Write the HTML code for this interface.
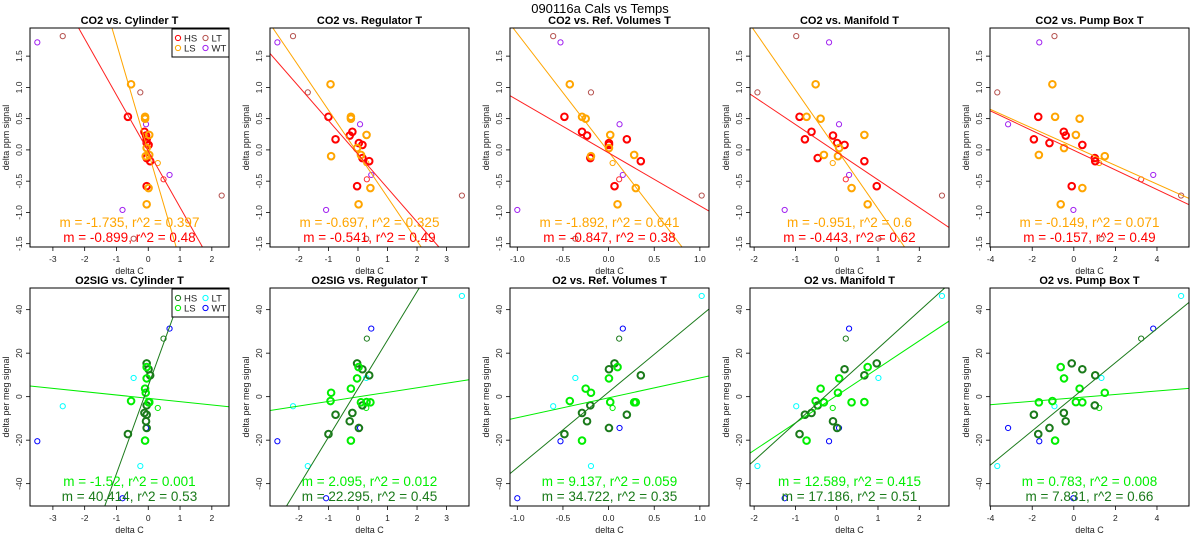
<!DOCTYPE html>
<html><head><meta charset="utf-8"><style>
html,body{margin:0;padding:0;background:#fff;width:1200px;height:550px;overflow:hidden;}
svg{display:block;overflow:hidden;font-family:"Liberation Sans",sans-serif;}
</style></head><body><svg id="chart" width="1200" height="550" viewBox="0 0 1200 550" xmlns="http://www.w3.org/2000/svg">
<rect width="1200" height="550" fill="#fff"/>
<text x="600" y="13" text-anchor="middle" font-size="13">090116a   Cals vs Temps</text>
</svg><script>
const ptGroup = ['WT','LT','LT','WT','WT','WT','HSthin','LT','LT','LSthin','HS','HS','HS','HS','HS','HS','HS','HS','HS','LS','LS','LS','LS','LS','LS','LS','LS','LS'];
const xCyl = [-3.49,-2.69,-0.25,-0.07,0.67,-0.81,0.48,2.31,-0.46,0.30,-0.64,-0.12,-0.07,-0.05,-0.05,0.01,-0.05,0.06,-0.05,-0.54,-0.10,-0.10,0.03,-0.05,0.03,-0.08,0.01,-0.05];
const xReg = [-2.73,-2.20,-1.70,0.07,0.45,-1.08,0.30,3.52,0.28,0.28,-1.00,-0.19,-0.28,-0.76,0.03,0.15,0.15,0.38,-0.03,-0.93,-0.24,-0.24,0.29,-0.03,0.10,-0.91,0.42,0.02];
const xRef = [-0.527,-0.607,-0.193,0.12,0.156,-1.0,0.116,1.02,-0.364,0.044,-0.484,-0.291,-0.236,0.20,0.004,0.004,-0.20,0.353,0.065,-0.425,-0.291,-0.251,0.018,0.004,0.28,-0.193,0.298,0.098];
const xMan = [-0.185,-0.98,-1.92,0.056,0.30,-1.26,0.22,2.55,1.01,-0.096,-0.90,-0.61,-0.09,-0.77,0.01,0.19,-0.46,0.67,0.97,-0.51,-0.73,-0.39,0.67,0.06,-0.31,0.03,0.36,0.75];
const xPump = [-1.66,-0.93,-3.68,-3.16,3.82,-0.02,3.24,5.16,1.33,1.22,-1.71,-0.48,-0.39,-1.92,-1.17,0.41,1.01,1.03,-0.10,-1.03,-0.90,0.28,0.10,-0.47,-1.68,1.49,0.41,-0.63];
const yCO2 = [1.72,1.82,0.92,0.41,-0.40,-0.96,-0.47,-0.73,-1.42,-0.21,0.53,0.29,0.23,0.17,0.11,0.08,-0.13,-0.18,-0.58,1.05,0.53,0.50,0.24,0.03,-0.08,-0.10,-0.61,-0.87];
const yO2 = [-20.5,-4.4,-31.9,-14.4,31.3,-46.7,26.7,46.3,8.6,-5.2,-17.2,-7.5,-11.3,-8.3,-14.4,12.6,-4.0,9.8,15.3,-2.0,-20.2,3.7,-2.5,8.4,-2.6,1.8,-2.6,13.6];
const colNames = ['Cylinder T','Regulator T','Ref. Volumes T','Manifold T','Pump Box T'];
const xLims = [[-3.72,2.54],[-2.98,3.76],[-1.08,1.10],[-2.10,2.72],[-4.03,5.54]];
const xTickVals = [[-3,-2,-1,0,1,2],[-2,-1,0,1,2,3],[-1,-0.5,0,0.5,1],[-2,-1,0,1,2],[-4,-2,0,2,4]];
const xTickLabels = [['-3','-2','-1','0','1','2'],['-2','-1','0','1','2','3'],['-1.0','-0.5','0.0','0.5','1.0'],['-2','-1','0','1','2'],['-4','-2','0','2','4']];
const yTopTicks = [-1.5,-1.0,-0.5,0.0,0.5,1.0,1.5];
const yTopLabels = ['-1.5','-1.0','-0.5','0.0','0.5','1.0','1.5'];
const yBotTicks = [-40,-20,0,20,40];
const yBotLabels = ['-40','-20','0','20','40'];
const topLS = [[-1.735,-0.03],[-0.697,-0.06],[-1.892,-0.03],[-0.951,0.01],[-0.149,0.05]];
const topHS = [[-0.899,-0.02],[-0.541,-0.07],[-0.847,-0.047],[-0.443,-0.036],[-0.157,-0.006]];
const botLS = [[-1.52,-0.75],[2.095,-0.1],[9.137,-0.53],[12.589,0.5],[0.783,-0.54]];
const botHS = [[40.414,5],[22.295,3.7],[34.722,2.1],[17.186,5],[7.831,-0.04]];
const topLSText = ['m = -1.735, r^2 = 0.397','m = -0.697, r^2 = 0.325','m = -1.892, r^2 = 0.641','m = -0.951, r^2 = 0.6','m = -0.149, r^2 = 0.071'];
const topHSText = ['m = -0.899, r^2 = 0.48','m = -0.541, r^2 = 0.49','m = -0.847, r^2 = 0.38','m = -0.443, r^2 = 0.62','m = -0.157, r^2 = 0.49'];
const botLSText = ['m = -1.52, r^2 = 0.001','m = 2.095, r^2 = 0.012','m = 9.137, r^2 = 0.059','m = 12.589, r^2 = 0.415','m = 0.783, r^2 = 0.008'];
const botHSText = ['m = 40.414, r^2 = 0.53','m = 22.295, r^2 = 0.45','m = 34.722, r^2 = 0.35','m = 17.186, r^2 = 0.51','m = 7.831, r^2 = 0.66'];
const botTitles = ['O2SIG vs. Cylinder T','O2SIG vs. Regulator T','O2 vs. Ref. Volumes T','O2 vs. Manifold T','O2 vs. Pump Box T'];

const xCols = [xCyl,xReg,xRef,xMan,xPump];
const NS='http://www.w3.org/2000/svg';
const svg=document.getElementById('chart');
function mk(tag,attrs,parent){const e=document.createElementNS(NS,tag);for(const k in attrs)e.setAttribute(k,attrs[k]);(parent||svg).appendChild(e);return e;}
const topCol={HS:'#ff0000',LS:'#ffa500',LT:'#b5524f',WT:'#a020f0',HSthin:'#ff3030',LSthin:'#ffa500'};
const botCol={HS:'#1a7a1a',LS:'#00ee00',LT:'#00ffff',WT:'#0000ff',HSthin:'#1a7a1a',LSthin:'#00ee00'};

function panel(c,row){
  const L=30+240*c, R=L+199;
  const T=row?288:28, B=row?506:247;
  const yl=row?[-50.27,49.96]:[-1.553,1.95];
  const xl=xLims[c];
  const sx=v=>L+(v-xl[0])/(xl[1]-xl[0])*(R-L);
  const sy=v=>B-(v-yl[0])/(yl[1]-yl[0])*(B-T);
  const g=mk('g',{});
  
  
  const cp='cp'+row+c;
  const d=mk('clipPath',{id:cp},g);mk('rect',{x:L,y:T,width:R-L,height:B-T},d);
  const t=mk('text',{x:(L+R)/2,y:T-4,'text-anchor':'middle','font-size':11,'font-weight':'bold'},g);
  t.textContent=row?botTitles[c]:'CO2 vs. '+colNames[c];
  
  
  xTickVals[c].forEach((v,i)=>{
    const x=sx(v);
    mk('line',{x1:x,x2:x,y1:B,y2:B+4,stroke:'#000','stroke-width':0.8},g);
    const tl=mk('text',{x:x,y:B+15,'text-anchor':'middle','font-size':8.5,fill:'#222'},g);
    tl.textContent=xTickLabels[c][i];
    
    
  });
  mk('line',{x1:sx(xTickVals[c][0]),x2:sx(xTickVals[c][xTickVals[c].length-1]),y1:B,y2:B,stroke:'#000','stroke-width':0.8},g);
  const xt=mk('text',{x:(L+R)/2,y:B+27,'text-anchor':'middle','font-size':9,fill:'#222'},g);
  xt.textContent='delta C';
  
  
  const yv=row?yBotTicks:yTopTicks, yls=row?yBotLabels:yTopLabels;
  yv.forEach((v,i)=>{
    const y=sy(v);
    mk('line',{x1:L-4,x2:L,y1:y,y2:y,stroke:'#000','stroke-width':0.8},g);
    const tl=mk('text',{x:L-8,y:y,'text-anchor':'middle','font-size':8.5,fill:'#222',transform:`rotate(-90 ${L-8} ${y})`},g);
    tl.textContent=yls[i];
    
    
  });
  mk('line',{x1:L,x2:L,y1:sy(yv[0]),y2:sy(yv[yv.length-1]),stroke:'#000','stroke-width':0.8},g);
  const ycx=L-21, ycy=(T+B)/2;
  const yt=mk('text',{x:ycx,y:ycy,'text-anchor':'middle','font-size':9,fill:'#222',transform:`rotate(-90 ${ycx} ${ycy})`},g);
  yt.textContent=row?'delta per meg signal':'delta ppm signal';
  
  
  const ys=row?yO2:yCO2, xs=xCols[c], cols=row?botCol:topCol;
  ys.forEach((yv2,i)=>{
    const grp=ptGroup[i];const thick=(grp==='HS'||grp==='LS');
    const p=mk('circle',{cx:sx(xs[i]),cy:sy(yv2),r:thick?3.3:2.6,fill:'none',stroke:cols[grp],'stroke-width':thick?2:1,'clip-path':`url(#${cp})`},g);
    
    
  });
  const lines=row?[[botLS[c],botCol.LS,'ls'],[botHS[c],botCol.HS,'hs']]:[[topLS[c],topCol.LS,'ls'],[topHS[c],'#ff2020','hs']];
  lines.forEach(([mb,col,nm])=>{
    const m=mb[0], b=mb[1];
    let xa=xl[0], xb=xl[1];
    if(m!==0){
      const xAtLo=(yl[0]-b)/m, xAtHi=(yl[1]-b)/m;
      const lo=Math.min(xAtLo,xAtHi), hi=Math.max(xAtLo,xAtHi);
      xa=Math.max(xa,lo); xb=Math.min(xb,hi);
    }
    const ln=mk('line',{x1:sx(xa),y1:sy(b+m*xa),x2:sx(xb),y2:sy(b+m*xb),stroke:col,'stroke-width':1,'clip-path':`url(#${cp})`},g);
    
    
  });
  mk('rect',{x:L,y:T,width:R-L,height:B-T,fill:'none',stroke:'#000','stroke-width':1},g);
  const s1=mk('text',{x:(L+R)/2,y:B-20,'text-anchor':'middle','font-size':13.5,fill:row?botCol.LS:topCol.LS},g);
  s1.textContent=row?botLSText[c]:topLSText[c];
  
  
  const s2=mk('text',{x:(L+R)/2,y:B-5,'text-anchor':'middle','font-size':13.5,fill:row?botCol.HS:'#ff0000'},g);
  s2.textContent=row?botHSText[c]:topHSText[c];
  
  
  if(c===0){
    const lg=mk('g',{},g);
    
    
    mk('rect',{x:172,y:T+1,width:57,height:28,fill:'#fff',stroke:'#000','stroke-width':1},lg);
    const ents=[['HS',178,T+10],['LT',205.5,T+10],['LS',178,T+20],['WT',205.5,T+20]];
    ents.forEach(([k,x,y])=>{
      const e=mk('g',{},lg);
      
      
      mk('circle',{cx:x,cy:y,r:2.6,fill:'none',stroke:cols[k],'stroke-width':1},e);
      const tx=mk('text',{x:x+6,y:y+3.5,'font-size':9.5,fill:'#222'},e);
      tx.textContent=k;
    });
  }
}
for(let r=0;r<2;r++)for(let c=0;c<5;c++)panel(c,r);
</script></body></html>
